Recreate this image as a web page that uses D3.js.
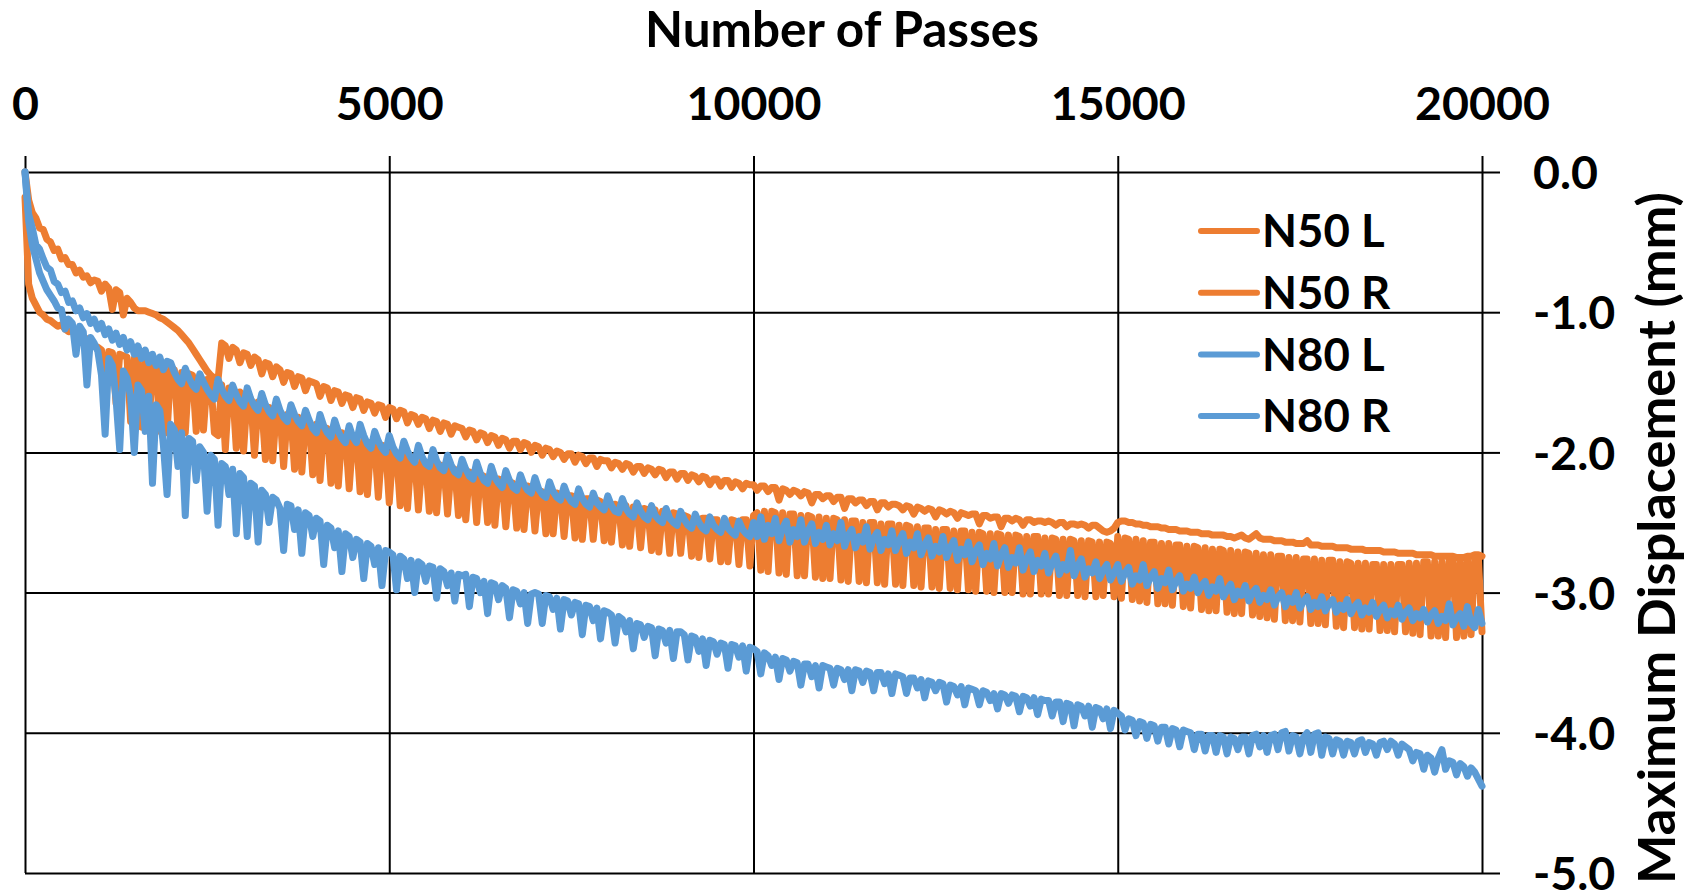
<!DOCTYPE html>
<html>
<head>
<meta charset="utf-8">
<script src="https://cdn.jsdelivr.net/npm/d3@7"></script>
<style>
  body { margin: 0; background: #fff; }
  svg { display: block; }
  text { font-family: Lato, "Open Sans", sans-serif; font-weight: 700; fill: #000; }
</style>
</head>
<body>
<svg id="chart" width="1686" height="893"></svg>
<script>
// Readings are taken every 50 passes, from 0 to 20000 (20 readings per row below).
const passStep = 50;

// Maximum displacement (mm) per reading
const n50L = [
  0,-0.20,-0.29,-0.33,-0.40,-0.41,-0.48,-0.50,-0.56,-0.55,-0.62,-0.61,-0.66,-0.66,-0.72,-0.70,-0.75,-0.74,-0.79,-0.77,
  -0.78,-0.85,-0.80,-0.83,-0.98,-0.84,-0.86,-1.02,-0.90,-0.93,-0.97,-0.99,-0.99,-0.99,-1.00,-1.01,-1.02,-1.04,-1.05,-1.07,
  -1.09,-1.11,-1.13,-1.16,-1.19,-1.22,-1.26,-1.30,-1.34,-1.38,-1.42,-1.45,-1.47,-1.48,-1.22,-1.24,-1.33,-1.25,-1.27,-1.36,
  -1.29,-1.30,-1.38,-1.32,-1.34,-1.44,-1.36,-1.37,-1.46,-1.39,-1.41,-1.50,-1.43,-1.44,-1.53,-1.46,-1.47,-1.56,-1.49,-1.50,
  -1.51,-1.60,-1.53,-1.54,-1.63,-1.56,-1.57,-1.65,-1.59,-1.60,-1.68,-1.61,-1.62,-1.70,-1.64,-1.65,-1.72,-1.66,-1.67,-1.75,
  -1.68,-1.69,-1.76,-1.70,-1.71,-1.79,-1.73,-1.74,-1.80,-1.75,-1.76,-1.83,-1.77,-1.78,-1.85,-1.79,-1.80,-1.87,-1.81,-1.82,
  -1.83,-1.89,-1.84,-1.85,-1.91,-1.86,-1.87,-1.93,-1.88,-1.89,-1.95,-1.90,-1.91,-1.97,-1.92,-1.92,-1.98,-1.93,-1.94,-2.00,
  -1.95,-1.96,-2.02,-1.97,-1.98,-2.03,-1.99,-2.00,-2.05,-2.01,-2.01,-2.07,-2.02,-2.03,-2.08,-2.04,-2.04,-2.10,-2.05,-2.06,
  -2.06,-2.11,-2.07,-2.08,-2.12,-2.08,-2.09,-2.14,-2.10,-2.10,-2.15,-2.11,-2.12,-2.16,-2.12,-2.13,-2.18,-2.14,-2.14,-2.19,
  -2.15,-2.15,-2.20,-2.16,-2.17,-2.21,-2.17,-2.18,-2.23,-2.19,-2.19,-2.24,-2.20,-2.20,-2.25,-2.21,-2.22,-2.26,-2.22,-2.23,
  -2.23,-2.27,-2.24,-2.24,-2.28,-2.25,-2.25,-2.34,-2.26,-2.27,-2.30,-2.27,-2.28,-2.31,-2.28,-2.29,-2.36,-2.30,-2.30,-2.33,
  -2.31,-2.31,-2.35,-2.32,-2.32,-2.40,-2.33,-2.33,-2.36,-2.34,-2.34,-2.38,-2.35,-2.35,-2.41,-2.36,-2.36,-2.39,-2.37,-2.37,
  -2.38,-2.41,-2.38,-2.39,-2.44,-2.39,-2.40,-2.42,-2.40,-2.41,-2.46,-2.41,-2.42,-2.44,-2.42,-2.43,-2.47,-2.43,-2.44,-2.45,
  -2.44,-2.44,-2.51,-2.45,-2.45,-2.47,-2.46,-2.46,-2.53,-2.47,-2.47,-2.49,-2.47,-2.48,-2.52,-2.48,-2.48,-2.50,-2.49,-2.49,
  -2.50,-2.49,-2.50,-2.52,-2.50,-2.50,-2.53,-2.51,-2.51,-2.52,-2.51,-2.52,-2.54,-2.52,-2.52,-2.54,-2.56,-2.57,-2.56,-2.54,
  -2.50,-2.49,-2.49,-2.50,-2.50,-2.51,-2.51,-2.52,-2.52,-2.53,-2.53,-2.53,-2.54,-2.54,-2.55,-2.55,-2.55,-2.56,-2.56,-2.56,
  -2.57,-2.57,-2.57,-2.58,-2.58,-2.58,-2.59,-2.59,-2.59,-2.59,-2.60,-2.60,-2.61,-2.60,-2.59,-2.61,-2.62,-2.60,-2.58,-2.61,
  -2.62,-2.62,-2.62,-2.63,-2.63,-2.63,-2.64,-2.64,-2.64,-2.65,-2.65,-2.65,-2.63,-2.66,-2.66,-2.66,-2.67,-2.67,-2.67,-2.67,
  -2.68,-2.68,-2.68,-2.68,-2.69,-2.69,-2.69,-2.69,-2.70,-2.70,-2.70,-2.70,-2.70,-2.71,-2.71,-2.71,-2.71,-2.72,-2.72,-2.72,
  -2.72,-2.72,-2.73,-2.73,-2.73,-2.73,-2.73,-2.74,-2.74,-2.74,-2.74,-2.74,-2.74,-2.75,-2.75,-2.75,-2.74,-2.74,-2.73,-2.73,
  -2.74
];

const n50R = [
  -0.18,-0.80,-0.90,-0.95,-1.00,-1.02,-1.05,-1.06,-1.08,-1.10,-1.09,-1.12,-1.14,-1.13,-1.16,-1.18,-1.20,-1.19,-1.22,-1.24,
  -1.25,-1.27,-1.60,-1.28,-1.29,-1.65,-1.30,-1.31,-1.32,-1.78,-1.33,-1.34,-1.82,-1.35,-1.84,-1.36,-1.37,-1.85,-1.38,-1.86,
  -1.40,-1.41,-1.84,-1.43,-1.86,-1.44,-1.45,-1.85,-1.47,-1.84,-1.48,-1.50,-1.86,-1.88,-1.52,-1.98,-1.54,-1.55,-1.97,-1.57,
  -1.99,-1.60,-1.62,-2.02,-1.64,-1.66,-2.05,-1.68,-2.06,-1.70,-1.71,-2.10,-1.73,-1.74,-2.12,-1.75,-2.14,-1.77,-1.78,-2.16,
  -1.80,-2.20,-1.82,-1.83,-2.22,-1.85,-2.24,-1.86,-1.88,-2.26,-1.89,-1.90,-2.28,-1.91,-2.30,-1.93,-1.94,-2.32,-1.95,-1.96,
  -2.36,-1.99,-2.00,-2.38,-2.02,-2.40,-2.03,-2.05,-2.41,-2.06,-2.07,-2.42,-2.08,-2.43,-2.09,-2.10,-2.44,-2.11,-2.12,-2.45,
  -2.13,-2.48,-2.14,-2.15,-2.50,-2.16,-2.17,-2.50,-2.18,-2.52,-2.19,-2.20,-2.53,-2.21,-2.22,-2.54,-2.23,-2.55,-2.24,-2.25,
  -2.56,-2.27,-2.28,-2.58,-2.28,-2.58,-2.29,-2.30,-2.60,-2.31,-2.31,-2.61,-2.32,-2.62,-2.33,-2.33,-2.62,-2.34,-2.35,-2.63,
  -2.36,-2.64,-2.37,-2.38,-2.66,-2.38,-2.67,-2.39,-2.40,-2.68,-2.40,-2.41,-2.70,-2.41,-2.71,-2.42,-2.43,-2.72,-2.43,-2.44,
  -2.72,-2.45,-2.46,-2.74,-2.46,-2.75,-2.47,-2.47,-2.76,-2.48,-2.48,-2.78,-2.48,-2.78,-2.48,-2.49,-2.80,-2.48,-2.48,-2.81,
  -2.45,-2.43,-2.84,-2.42,-2.85,-2.42,-2.43,-2.86,-2.43,-2.87,-2.44,-2.44,-2.88,-2.45,-2.88,-2.45,-2.46,-2.89,-2.46,-2.90,
  -2.47,-2.90,-2.47,-2.48,-2.91,-2.48,-2.92,-2.49,-2.49,-2.92,-2.50,-2.93,-2.50,-2.50,-2.93,-2.51,-2.94,-2.51,-2.51,-2.94,
  -2.52,-2.95,-2.52,-2.53,-2.95,-2.53,-2.96,-2.54,-2.54,-2.96,-2.55,-2.97,-2.55,-2.55,-2.97,-2.56,-2.98,-2.56,-2.56,-2.98,
  -2.57,-2.99,-2.57,-2.58,-2.99,-2.58,-3.00,-2.58,-2.59,-3.00,-2.59,-3.00,-2.59,-2.60,-3.01,-2.60,-3.01,-2.60,-2.60,-3.01,
  -2.61,-3.01,-2.61,-2.62,-3.02,-2.62,-3.02,-2.62,-2.63,-3.02,-2.63,-3.03,-2.63,-2.64,-3.03,-2.64,-3.02,-2.64,-2.65,-3.03,
  -2.60,-3.04,-2.61,-2.62,-3.05,-2.62,-3.06,-2.63,-3.07,-2.64,-2.64,-3.08,-2.65,-3.08,-2.65,-3.09,-2.66,-2.66,-3.10,-2.67,
  -3.11,-2.67,-2.68,-3.12,-2.68,-3.13,-2.69,-3.13,-2.69,-2.70,-3.14,-2.70,-3.15,-2.71,-3.15,-2.71,-2.72,-3.16,-2.72,-3.17,
  -2.73,-3.18,-2.73,-3.19,-2.74,-2.74,-3.20,-2.75,-3.20,-2.75,-3.21,-2.76,-2.76,-3.22,-2.76,-3.22,-2.77,-3.23,-2.77,-2.77,
  -3.24,-2.78,-3.25,-2.78,-2.79,-3.25,-2.79,-3.26,-2.79,-3.26,-2.80,-2.80,-3.27,-2.80,-3.27,-2.80,-3.28,-2.80,-2.80,-3.28,
  -2.79,-3.29,-2.79,-3.30,-2.78,-2.78,-3.31,-2.78,-3.31,-2.78,-3.32,-2.77,-2.77,-3.32,-2.77,-3.31,-2.76,-3.30,-2.76,-2.75,
  -3.28
];

const n80L = [
  0,-0.30,-0.40,-0.52,-0.55,-0.62,-0.68,-0.70,-0.78,-0.80,-0.86,-0.85,-0.93,-0.92,-0.99,-0.97,-1.04,-1.01,-1.08,-1.05,
  -1.12,-1.08,-1.16,-1.12,-1.20,-1.15,-1.23,-1.18,-1.27,-1.21,-1.30,-1.24,-1.33,-1.27,-1.36,-1.30,-1.38,-1.32,-1.41,-1.35,
  -1.36,-1.43,-1.48,-1.51,-1.40,-1.47,-1.52,-1.55,-1.44,-1.50,-1.55,-1.59,-1.62,-1.48,-1.55,-1.60,-1.63,-1.52,-1.59,-1.64,
  -1.67,-1.54,-1.62,-1.67,-1.70,-1.58,-1.66,-1.71,-1.74,-1.62,-1.70,-1.75,-1.78,-1.66,-1.73,-1.78,-1.81,-1.70,-1.77,-1.83,
  -1.86,-1.73,-1.81,-1.86,-1.89,-1.77,-1.85,-1.90,-1.93,-1.81,-1.89,-1.93,-1.80,-1.88,-1.94,-1.97,-1.85,-1.92,-1.97,-2.00,
  -1.88,-1.96,-2.01,-2.04,-1.92,-1.99,-2.04,-2.07,-1.95,-2.03,-2.08,-2.10,-1.98,-2.06,-2.11,-2.13,-2.02,-2.09,-2.14,-2.16,
  -2.05,-2.12,-2.17,-2.19,-2.07,-2.15,-2.20,-2.22,-2.10,-2.18,-2.22,-2.25,-2.13,-2.20,-2.25,-2.27,-2.16,-2.23,-2.27,-2.29,
  -2.18,-2.26,-2.30,-2.32,-2.21,-2.28,-2.32,-2.34,-2.24,-2.31,-2.35,-2.37,-2.26,-2.33,-2.37,-2.39,-2.29,-2.36,-2.39,-2.41,
  -2.31,-2.38,-2.42,-2.43,-2.33,-2.40,-2.44,-2.46,-2.36,-2.42,-2.46,-2.48,-2.38,-2.45,-2.48,-2.50,-2.40,-2.47,-2.50,-2.52,
  -2.42,-2.48,-2.52,-2.54,-2.44,-2.50,-2.54,-2.56,-2.46,-2.52,-2.55,-2.57,-2.47,-2.54,-2.57,-2.59,-2.49,-2.55,-2.58,-2.60,
  -2.50,-2.60,-2.46,-2.62,-2.52,-2.58,-2.47,-2.63,-2.54,-2.49,-2.64,-2.55,-2.60,-2.48,-2.64,-2.56,-2.51,-2.65,-2.57,-2.62,
  -2.52,-2.66,-2.58,-2.63,-2.50,-2.67,-2.59,-2.55,-2.68,-2.60,-2.64,-2.53,-2.69,-2.61,-2.57,-2.70,-2.62,-2.66,-2.56,-2.70,
  -2.63,-2.58,-2.72,-2.64,-2.68,-2.58,-2.73,-2.66,-2.61,-2.74,-2.67,-2.71,-2.60,-2.75,-2.68,-2.63,-2.77,-2.69,-2.73,-2.64,
  -2.78,-2.70,-2.66,-2.80,-2.72,-2.76,-2.65,-2.81,-2.73,-2.68,-2.82,-2.75,-2.79,-2.68,-2.84,-2.76,-2.71,-2.85,-2.77,-2.81,
  -2.72,-2.86,-2.79,-2.74,-2.87,-2.80,-2.84,-2.70,-2.88,-2.81,-2.76,-2.89,-2.83,-2.86,-2.78,-2.90,-2.84,-2.80,-2.91,-2.86,
  -2.80,-2.92,-2.86,-2.82,-2.94,-2.88,-2.91,-2.80,-2.95,-2.89,-2.85,-2.97,-2.90,-2.93,-2.84,-2.98,-2.92,-2.88,-2.99,-2.94,
  -2.97,-2.89,-3.00,-2.95,-2.92,-3.02,-2.96,-2.99,-2.90,-3.03,-2.98,-2.94,-3.05,-2.99,-3.02,-2.95,-3.06,-3.00,-2.97,-3.07,
  -3.02,-3.05,-2.98,-3.09,-3.03,-3.00,-3.10,-3.04,-3.07,-3.00,-3.11,-3.06,-3.03,-3.12,-3.07,-3.10,-3.03,-3.13,-3.08,-3.05,
  -3.14,-3.09,-3.12,-3.05,-3.15,-3.10,-3.07,-3.16,-3.11,-3.14,-3.07,-3.17,-3.12,-3.09,-3.18,-3.13,-3.16,-3.09,-3.19,-3.14,
  -3.11,-3.20,-3.15,-3.18,-3.12,-3.21,-3.16,-3.13,-3.22,-3.17,-3.20,-3.08,-3.23,-3.18,-3.15,-3.24,-3.10,-3.22,-3.25,-3.12,
  -3.22
];

const n80R = [
  0,-0.35,-0.52,-0.62,-0.72,-0.78,-0.84,-0.88,-0.92,-0.97,-0.98,-1.12,-1.05,-1.08,-1.30,-1.10,-1.14,-1.52,-1.18,-1.22,
  -1.28,-1.45,-1.87,-1.33,-1.38,-1.62,-1.98,-1.42,-1.47,-1.60,-2.00,-1.52,-1.56,-1.85,-1.60,-2.22,-1.66,-1.70,-1.95,-2.30,
  -1.80,-1.84,-2.10,-1.86,-2.45,-1.90,-1.92,-2.20,-1.96,-2.00,-2.42,-2.02,-2.05,-2.52,-2.08,-2.10,-2.30,-2.12,-2.58,-2.15,
  -2.18,-2.60,-2.22,-2.24,-2.64,-2.27,-2.30,-2.50,-2.32,-2.34,-2.40,-2.70,-2.37,-2.38,-2.55,-2.41,-2.72,-2.43,-2.45,-2.60,
  -2.47,-2.49,-2.80,-2.52,-2.54,-2.68,-2.56,-2.85,-2.58,-2.60,-2.75,-2.62,-2.64,-2.90,-2.65,-2.67,-2.80,-2.68,-2.95,-2.70,
  -2.71,-2.73,-2.98,-2.74,-2.76,-2.90,-2.77,-3.00,-2.78,-2.80,-2.92,-2.81,-2.82,-3.04,-2.83,-2.85,-2.95,-2.86,-3.06,-2.87,
  -2.88,-2.87,-3.10,-2.89,-2.90,-3.00,-2.92,-3.15,-2.93,-2.94,-3.05,-2.95,-2.97,-3.18,-2.98,-2.99,-3.08,-3.00,-3.22,-3.01,
  -3.00,-3.01,-3.22,-3.02,-3.03,-3.12,-3.04,-3.26,-3.05,-3.06,-3.16,-3.07,-3.08,-3.30,-3.09,-3.10,-3.20,-3.11,-3.33,-3.13,
  -3.14,-3.16,-3.36,-3.17,-3.19,-3.28,-3.20,-3.40,-3.22,-3.23,-3.32,-3.24,-3.25,-3.45,-3.26,-3.27,-3.36,-3.27,-3.47,-3.28,
  -3.28,-3.30,-3.48,-3.31,-3.32,-3.42,-3.33,-3.52,-3.34,-3.35,-3.44,-3.36,-3.37,-3.54,-3.37,-3.38,-3.46,-3.38,-3.56,-3.39,
  -3.40,-3.42,-3.58,-3.43,-3.45,-3.52,-3.46,-3.62,-3.47,-3.48,-3.56,-3.49,-3.50,-3.66,-3.51,-3.51,-3.60,-3.52,-3.68,-3.52,
  -3.53,-3.54,-3.66,-3.54,-3.55,-3.62,-3.55,-3.70,-3.55,-3.56,-3.64,-3.56,-3.57,-3.70,-3.57,-3.57,-3.65,-3.58,-3.72,-3.58,
  -3.59,-3.60,-3.72,-3.61,-3.61,-3.68,-3.62,-3.75,-3.63,-3.64,-3.70,-3.64,-3.65,-3.78,-3.66,-3.67,-3.73,-3.67,-3.80,-3.68,
  -3.69,-3.70,-3.80,-3.70,-3.71,-3.77,-3.72,-3.83,-3.72,-3.73,-3.79,-3.73,-3.74,-3.85,-3.74,-3.75,-3.81,-3.75,-3.87,-3.76,
  -3.77,-3.77,-3.88,-3.78,-3.78,-3.92,-3.79,-3.80,-3.95,-3.80,-3.81,-3.88,-3.81,-3.96,-3.82,-3.83,-3.90,-3.83,-3.97,-3.84,
  -3.86,-3.88,-3.98,-3.90,-3.91,-4.02,-3.92,-3.93,-4.04,-3.94,-3.95,-4.06,-3.96,-3.96,-4.08,-3.97,-3.98,-4.10,-3.98,-3.99,
  -4.00,-4.12,-4.01,-4.01,-4.13,-4.02,-4.02,-4.14,-4.02,-4.03,-4.15,-4.03,-4.04,-4.12,-4.03,-4.03,-4.15,-4.02,-4.01,-4.10,
  -4.02,-4.14,-4.02,-4.01,-4.12,-4.00,-3.99,-4.13,-4.02,-4.03,-4.15,-4.03,-4.00,-4.14,-4.01,-4.00,-4.16,-4.03,-4.04,-4.15,
  -4.05,-4.06,-4.16,-4.06,-4.07,-4.15,-4.06,-4.05,-4.14,-4.07,-4.08,-4.16,-4.07,-4.06,-4.12,-4.06,-4.08,-4.16,-4.08,-4.10,
  -4.12,-4.20,-4.14,-4.15,-4.26,-4.16,-4.18,-4.28,-4.18,-4.12,-4.26,-4.20,-4.21,-4.30,-4.22,-4.24,-4.31,-4.25,-4.28,-4.33,
  -4.38
];

const seriesNames = ["N50 L", "N50 R", "N80 L", "N80 R"];
const seriesValues = [n50L, n50R, n80L, n80R];
const seriesColors = ["#ED7D31", "#ED7D31", "#5B9BD5", "#5B9BD5"];

const xTicks = [0, 5000, 10000, 15000, 20000];
const yTicks = [0, -1, -2, -3, -4, -5];

const xTitle = "Number of Passes";
const yTitle = "Maximum Displacement (mm)";

// ---- layout ----
const svg = d3.select("#chart");
const plot = { left: 25, right: 1482, top: 172, bottom: 873 };
const tickFont = 46.5;
const lineWidth = 7;

const x = d3.scaleLinear().domain([0, 20000]).range([plot.left, plot.right]);
const y = d3.scaleLinear().domain([0, -5]).range([plot.top, plot.bottom]);

// Gridlines, beneath the data
const grid = svg.append("g").attr("class", "grid");
grid.append("g")
  .attr("transform", `translate(0,${plot.top})`)
  .call(d3.axisBottom(x).tickValues(xTicks).tickSize(plot.bottom - plot.top).tickFormat(""))
  .call(g => g.select(".domain").remove());
grid.append("g")
  .attr("transform", `translate(${plot.right},0)`)
  .call(d3.axisLeft(y).tickValues(yTicks).tickSize(plot.right - plot.left).tickFormat(""))
  .call(g => g.select(".domain").remove());
grid.selectAll("line").attr("stroke", "#000").attr("stroke-width", 2);

// Top x axis: short outward ticks and labels
const xAxis = svg.append("g")
  .attr("transform", `translate(0,${plot.top})`)
  .call(d3.axisTop(x).tickValues(xTicks).tickSize(16).tickPadding(36).tickFormat(d => String(d)));
xAxis.select(".domain").remove();
xAxis.selectAll("line").attr("stroke", "#000").attr("stroke-width", 2);
xAxis.selectAll("text").attr("font-size", tickFont).attr("font-family", null).style("fill", "#000");

// Right y axis: short outward ticks, labels with a plain hyphen for negatives
const yAxis = svg.append("g")
  .attr("transform", `translate(${plot.right},0)`)
  .call(d3.axisRight(y).tickValues(yTicks).tickSize(18).tickPadding(33)
    .tickFormat(d => (d === 0 ? 0 : d).toFixed(1)));
yAxis.select(".domain").remove();
yAxis.selectAll("line").attr("stroke", "#000").attr("stroke-width", 2);
yAxis.selectAll("text").attr("font-size", tickFont).attr("font-family", null)
  .attr("dy", "0.36em").style("fill", "#000");

// Series lines (later series draw over earlier ones)
const line = d3.line()
  .x((d, i) => x(i * passStep))
  .y(d => y(d));

svg.append("g").selectAll("path")
  .data(seriesValues)
  .join("path")
  .attr("d", line)
  .attr("fill", "none")
  .attr("stroke", (d, i) => seriesColors[i])
  .attr("stroke-width", lineWidth)
  .attr("stroke-linejoin", "round")
  .attr("stroke-linecap", "round");

// Legend
const legend = svg.append("g").attr("transform", "translate(1201,231)");
const items = legend.selectAll("g")
  .data(seriesNames)
  .join("g")
  .attr("transform", (d, i) => `translate(0,${i * 61.7})`);
items.append("line")
  .attr("x1", 0).attr("x2", 56).attr("y1", 0).attr("y2", 0)
  .attr("stroke", (d, i) => seriesColors[i])
  .attr("stroke-width", 6)
  .attr("stroke-linecap", "round");
items.append("text")
  .attr("x", 61).attr("y", 0).attr("dy", "0.36em")
  .attr("font-size", 45.5)
  .text(d => d);

// Axis titles, sized to span their set lengths
function fitText(sel, targetLength, startSize) {
  sel.attr("font-size", startSize);
  const len = sel.node().getComputedTextLength();
  if (len > 0) sel.attr("font-size", startSize * targetLength / len);
  return sel;
}

const xTitleText = svg.append("text")
  .attr("x", 842).attr("y", 47)
  .attr("text-anchor", "middle")
  .text(xTitle);
fitText(xTitleText, 394, 47);

const yTitleText = svg.append("text")
  .attr("transform", "translate(1675,538) rotate(-90)")
  .attr("text-anchor", "middle")
  .text(yTitle);
fitText(yTitleText, 692, 50);
</script>
</body>
</html>
